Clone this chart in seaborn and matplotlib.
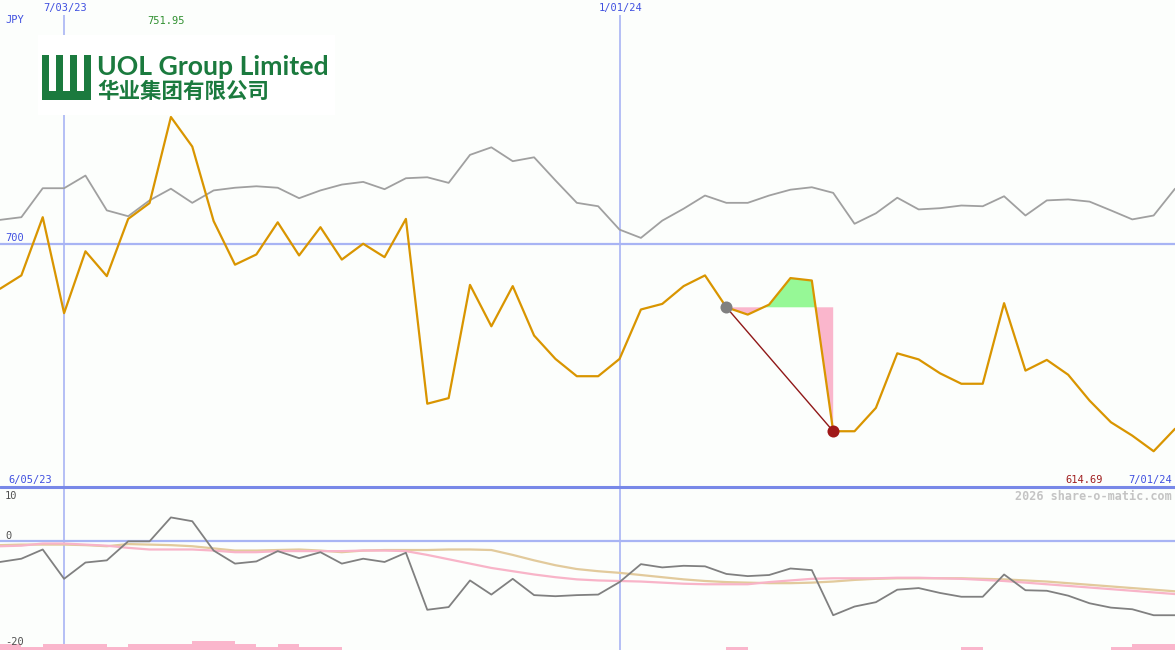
import matplotlib
matplotlib.use('Agg')
import matplotlib.pyplot as plt
import seaborn as sns
import pandas as pd
from matplotlib.patches import Rectangle

# weekly points, 6/12/23 .. 7/01/24
weeks = list(range(56))
uol_price = [681.4, 686.9, 710.8, 671.4, 696.8, 686.6, 710.1, 716.6, 751.95, 739.8,
             709.2, 691.3, 695.5, 708.7, 695.1, 706.7, 693.4, 699.9, 694.4, 710.1,
             634.2, 636.5, 683.0, 666.0, 682.5, 662.2, 652.6, 645.5, 645.5, 652.6,
             672.9, 675.2, 682.5, 686.9, 673.8, 670.8, 674.9, 685.8, 684.8, 622.9,
             622.9, 632.5, 654.9, 652.4, 646.7, 642.4, 642.4, 675.5, 647.8, 652.2,
             646.1, 635.5, 626.6, 621.1, 614.69, 623.9]
index_scaled = [709.7, 710.8, 722.7, 722.7, 727.9, 713.6, 711.2, 717.7, 722.5, 716.7,
                721.8, 722.9, 723.5, 722.9, 718.6, 721.8, 724.2, 725.3, 722.3, 726.8,
                727.2, 724.9, 736.4, 739.5, 733.8, 735.4, 725.9, 716.7, 715.3, 705.7,
                702.3, 709.4, 714.3, 719.7, 716.7, 716.7, 719.7, 722.1, 723.1, 720.8,
                708.1, 712.4, 718.8, 714.0, 714.5, 715.6, 715.3, 719.4, 711.5, 717.7,
                718.1, 717.2, 713.6, 709.9, 711.5, 722.5]
rel_perf = [-3.8, -3.2, -1.5, -6.9, -3.9, -3.5, 0.0, 0.0, 4.4, 3.7,
            -1.7, -4.1, -3.7, -1.8, -3.1, -2.0, -4.1, -3.2, -3.8, -2.1,
            -12.6, -12.1, -7.2, -9.8, -6.9, -9.9, -10.1, -9.9, -9.8, -7.5,
            -4.2, -4.8, -4.5, -4.6, -6.0, -6.4, -6.2, -5.0, -5.3, -13.6,
            -12.0, -11.2, -8.9, -8.6, -9.5, -10.2, -10.2, -6.1, -9.0, -9.1,
            -10.0, -11.4, -12.2, -12.5, -13.6, -13.6]
ma_fast = [-0.9, -0.8, -0.4, -0.4, -0.6, -0.8, -1.2, -1.5, -1.5, -1.5,
           -1.7, -2.0, -2.0, -1.8, -1.8, -1.8, -1.8, -1.7, -1.7, -1.8,
           -2.5, -3.3, -4.1, -4.9, -5.5, -6.1, -6.6, -7.0, -7.2, -7.3,
           -7.4, -7.6, -7.8, -7.9, -7.9, -7.9, -7.5, -7.2, -6.9, -6.8,
           -6.8, -6.8, -6.7, -6.7, -6.8, -6.9, -7.1, -7.3, -7.6, -7.9,
           -8.2, -8.5, -8.8, -9.1, -9.4, -9.7]
ma_slow = [-0.7, -0.6, -0.6, -0.6, -0.7, -0.9, -0.5, -0.6, -0.7, -0.9,
           -1.3, -1.7, -1.7, -1.6, -1.5, -1.7, -2.0, -1.7, -1.6, -1.6,
           -1.6, -1.5, -1.5, -1.6, -2.5, -3.5, -4.4, -5.1, -5.5, -5.8,
           -6.2, -6.6, -7.0, -7.3, -7.5, -7.6, -7.7, -7.7, -7.6, -7.4,
           -7.1, -6.9, -6.8, -6.8, -6.8, -6.8, -6.9, -7.0, -7.2, -7.4,
           -7.7, -8.0, -8.3, -8.6, -8.9, -9.2]
# small bars along the bottom, one per week interval
vol_bars = [1.1, 0.55, 1.1, 1.1, 1.1, 0.55, 1.1, 1.1, 1.1, 1.65,
            1.65, 1.1, 0.55, 1.1, 0.55, 0.55, 0, 0, 0, 0,
            0, 0, 0, 0, 0, 0, 0, 0, 0, 0,
            0, 0, 0, 0, 0.55, 0, 0, 0, 0, 0,
            0, 0, 0, 0, 0, 0.55, 0, 0, 0, 0,
            0, 0, 0.55, 1.1, 1.1]
start_i, end_i = 34, 39

BG = '#FCFEFC'
GRID = '#A8B4F4'
BLUE_TXT = '#4050E0'
ORANGE = '#D99500'
PINK = '#FAB6CC'

sns.set_style('white')
plt.rcParams['font.family'] = ['DejaVu Sans Mono', 'Noto Sans CJK SC']

df = pd.DataFrame({'week': weeks, 'price': uol_price, 'index': index_scaled,
                   'rel': rel_perf, 'fast': ma_fast, 'slow': ma_slow})

W, H = 1175, 650
fig = plt.figure(figsize=(11.75, 6.5), dpi=100, facecolor=BG)
ax = fig.add_axes([0, 163 / H, 1, 487 / H])
ax2 = fig.add_axes([0, 0, 1, 163 / H])
for a in (ax, ax2):
    a.set_facecolor(BG)
    a.set_xlim(0, 55)
    a.set_xticks([])
    a.set_yticks([])
    for s in a.spines.values():
        s.set_visible(False)
ax.set_ylim(600, 800)
ax2.set_ylim(-20, 10)

# top panel
ax.axhline(700, color=GRID, lw=1.6, zorder=1)
ax.vlines([3, 29], 600, 793.8, color=GRID, lw=1.2, zorder=1)
sns.lineplot(data=df, x='week', y='index', color='#A0A0A0', lw=1.3, ax=ax)
seg = df.iloc[start_i:end_i + 1]
level = uol_price[start_i]
ax.fill_between(seg['week'], seg['price'], level, where=seg['price'] >= level,
                interpolate=True, color='#96F896', lw=0, zorder=1.5)
ax.fill_between(seg['week'], seg['price'], level, where=seg['price'] <= level,
                interpolate=True, color=PINK, lw=0, zorder=1.5)
sns.lineplot(data=df, x='week', y='price', color=ORANGE, lw=1.6, ax=ax)
ax.plot([start_i, end_i], [uol_price[start_i], uol_price[end_i]], color='#901818', lw=1, zorder=3)
ax.scatter([start_i], [uol_price[start_i]], s=75, color='#808080', zorder=4, lw=0)
ax.scatter([end_i], [uol_price[end_i]], s=75, color='#A01818', zorder=4, lw=0)
ax.set_xlabel('')
ax.set_ylabel('')

# bottom panel
ax2.axhline(0, color=GRID, lw=1.6, zorder=1)
ax2.vlines([3, 29], -20, 10, color=GRID, lw=1.2, zorder=1)
ax2.bar(weeks[:-1], vol_bars, width=1, align='edge', bottom=-20, color=PINK, lw=0, zorder=1)
sns.lineplot(data=df, x='week', y='slow', color='#E2CA9C', lw=1.6, ax=ax2)
sns.lineplot(data=df, x='week', y='fast', color='#F8B4C8', lw=1.6, ax=ax2)
sns.lineplot(data=df, x='week', y='rel', color='#808080', lw=1.3, ax=ax2)
ax2.axhline(10, color='#7888E8', lw=2.2, clip_on=False, zorder=5)
ax2.set_xlabel('')
ax2.set_ylabel('')


def px(x, y):
    return x / W, 1 - y / H


def label(x, y, s, color, ha='left', size=7.5, **kw):
    fig.text(*px(x, y), s, color=color, ha=ha, va='center', fontsize=size, **kw)


label(5, 20, 'JPY', BLUE_TXT)
label(65, 8, '7/03/23', BLUE_TXT, ha='center')
label(621, 8, '1/01/24', BLUE_TXT, ha='center')
label(147, 21, f'{max(uol_price):.2f}', '#309030')
label(5, 238, '700', BLUE_TXT)
label(8, 480, '6/05/23', BLUE_TXT)
label(1103, 480, f'{min(uol_price):.2f}', '#A02020', ha='right')
label(1172, 480, '7/01/24', BLUE_TXT, ha='right')
label(1172, 496, '2026 share-o-matic.com', '#C4C4C4', ha='right', size=8.5, weight='bold')
label(5, 496, '10', '#505050')
label(5, 536, '0', '#505050')
label(5, 642, '-20', '#505050')

# logo
GREEN = '#1B7A3E'
fig.patches.append(Rectangle(px(38, 115), 297 / W, 80 / H, transform=fig.transFigure,
                             facecolor='white', edgecolor='none', zorder=6))
for bx in (42, 56, 70, 84):
    fig.patches.append(Rectangle(px(bx, 92), 7 / W, 37 / H, transform=fig.transFigure,
                                 facecolor=GREEN, edgecolor='none', zorder=7))
fig.patches.append(Rectangle(px(42, 100), 49 / W, 9 / H, transform=fig.transFigure,
                             facecolor=GREEN, edgecolor='none', zorder=7))
fig.text(*px(97, 67), 'UOL Group Limited', color=GREEN, fontsize=19.2, weight='bold',
         family=['Lato', 'DejaVu Sans'], va='center', ha='left', zorder=8)
fig.text(*px(97, 91), '华业集团有限公司', color=GREEN, fontsize=15.5, weight='bold',
         family=['Noto Sans CJK SC'], va='center', ha='left', zorder=8)

fig.savefig('out.png', dpi=100, facecolor=BG)
